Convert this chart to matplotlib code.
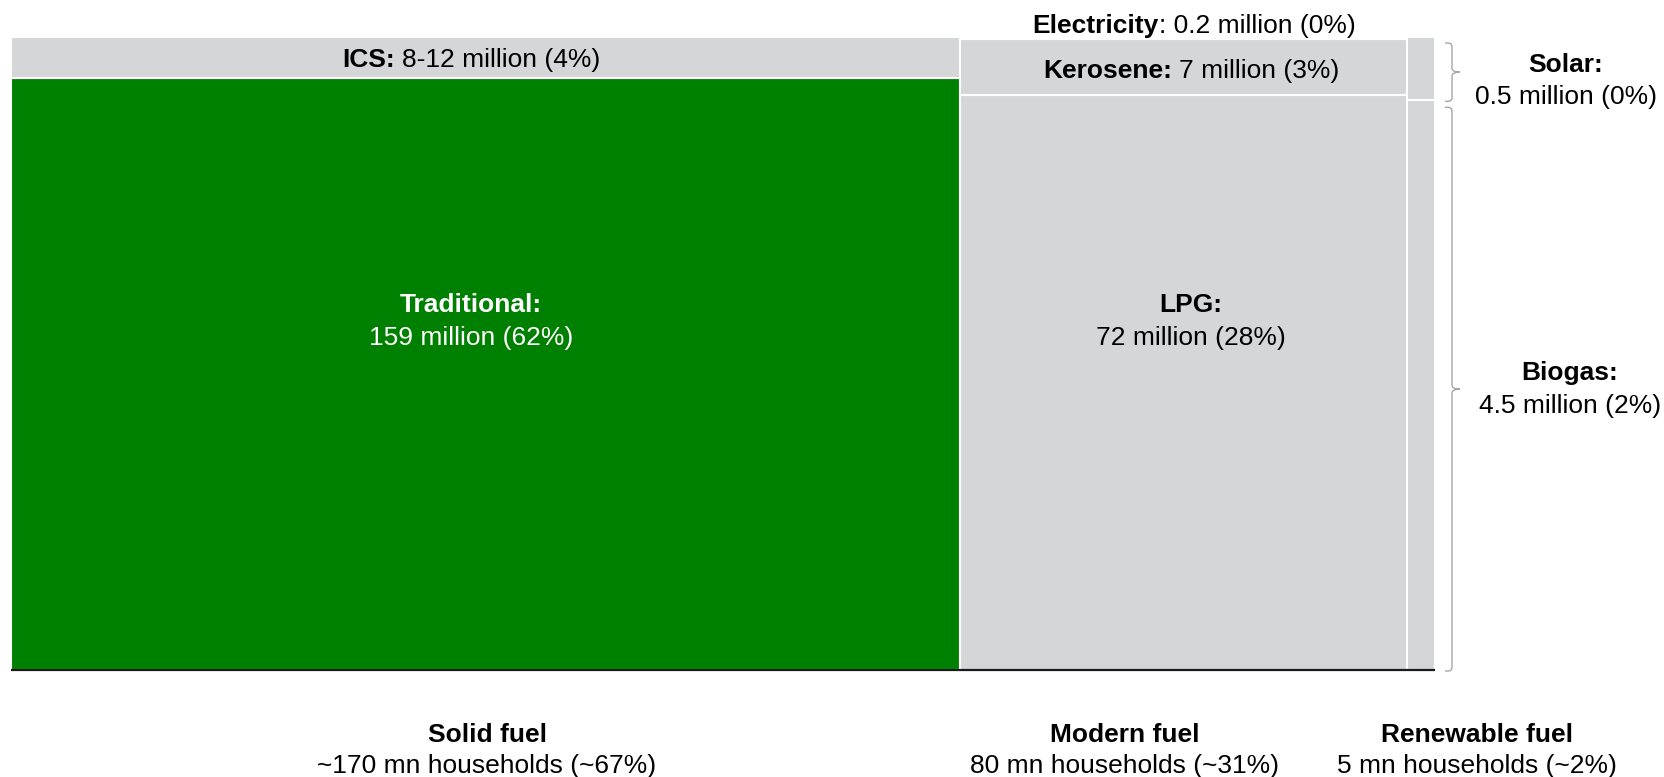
import matplotlib
matplotlib.use("Agg")
import matplotlib.pyplot as plt
from matplotlib.patches import Rectangle, PathPatch
from matplotlib.path import Path

plt.rcParams['font.family'] = ['Liberation Sans', 'DejaVu Sans']

# Indian households by primary cooking fuel (millions)
group_names = ["Solid fuel", "Modern fuel", "Renewable fuel"]
group_totals = [170, 80, 5]
group_total_text = ["~170", "80", "5"]
group_shares = ["~67%", "~31%", "~2%"]

solid_names = ["Traditional", "ICS"]
traditional_value = 159
ics_range = (8, 12)
solid_shares = ["62%", "4%"]

modern_names = ["LPG", "Kerosene", "Electricity"]
modern_values = [72, 7, 0.2]
modern_shares = ["28%", "3%", "0%"]

renewable_names = ["Biogas", "Solar"]
renewable_values = [4.5, 0.5]
renewable_shares = ["2%", "0%"]

GREEN = "#008000"
GREY = "#D5D6D8"
W, H, DPI = 1664, 777, 100
FS = 19
FS_PX = FS * DPI / 72

fig = plt.figure(figsize=(W / DPI, H / DPI), dpi=DPI)
ax = fig.add_axes([11 / W, (H - 670) / H, 1424 / W, 633 / H])
ax.set_xlim(0, sum(group_totals))
ax.set_ylim(0, 1)
ax.axis("off")

# stacked segments per column, heights normalised within each column
columns = [
    list(zip(solid_names, [traditional_value, group_totals[0] - traditional_value])),
    list(zip(modern_names, modern_values)),
    list(zip(renewable_names, renewable_values)),
]
geom = {}
x0 = 0
for width, segs in zip(group_totals, columns):
    col_sum = sum(v for _, v in segs)
    y0 = 0
    for name, v in segs:
        h = v / col_sum
        ax.add_patch(Rectangle((x0, y0), width, h,
                               facecolor=GREEN if name == "Traditional" else GREY,
                               edgecolor="white", linewidth=1.5))
        geom[name] = (x0, y0, width, h)
        y0 += h
    x0 += width

ax.plot([0, sum(group_totals)], [0, 0], color="#1a1a1a", lw=1.6,
        clip_on=False, solid_capstyle="butt")

# overlay in pixel units for labels and braces
ov = fig.add_axes([0, 0, 1, 1])
ov.set_xlim(0, W)
ov.set_ylim(H, 0)
ov.axis("off")
ov.patch.set_alpha(0)
renderer = fig.canvas.get_renderer()


def to_px(x, y):
    dx, dy = ax.transData.transform((x, y))
    return dx, H - dy


def mixed(x, y, bold, regular, color="black", gap=True):
    t1 = ov.text(x, y, bold, fontweight="bold", fontsize=FS, ha="left",
                 va="baseline", color=color)
    t2 = ov.text(x, y, regular, fontsize=FS, ha="left", va="baseline", color=color)
    w1 = t1.get_window_extent(renderer).width
    w2 = t2.get_window_extent(renderer).width
    g = 0.278 * FS_PX if gap else 0
    start = x - (w1 + g + w2) / 2
    t1.set_x(start)
    t2.set_x(start + w1 + g)


def two_line(x, y1, y2, bold, regular, color="black"):
    ov.text(x, y1, bold, fontweight="bold", fontsize=FS, ha="center",
            va="baseline", color=color)
    ov.text(x, y2, regular, fontsize=FS, ha="center", va="baseline", color=color)


def fmt(v):
    return f"{v:g}"


CAP = 0.716 * FS_PX / 2

# solid column
two_line(471, 312, 345, f"{solid_names[0]}:",
         f"{fmt(traditional_value)} million ({solid_shares[0]})", color="white")
gx, gy, gw, gh = geom["ICS"]
_, cy = to_px(0, gy + gh / 2)
mixed(471, cy + CAP, f"{solid_names[1]}:",
      f"{ics_range[0]}-{ics_range[1]} million ({solid_shares[1]})")

# modern column
two_line(1191, 312, 345, f"{modern_names[0]}:",
         f"{fmt(modern_values[0])} million ({modern_shares[0]})")
gx, gy, gw, gh = geom["Kerosene"]
_, cy = to_px(0, gy + gh / 2)
mixed(1191, cy + CAP + 2, f"{modern_names[1]}:",
      f"{fmt(modern_values[1])} million ({modern_shares[1]})")
mixed(1194, 33, modern_names[2],
      f": {fmt(modern_values[2])} million ({modern_shares[2]})", gap=False)


# braces beside the renewable column
def brace(top, bottom, right):
    xh, xv, xt = right + 10, right + 17, right + 25
    r = 4
    mid = (top + bottom) / 2
    verts = [
        (xh, top), (xv - r, top), (xv, top), (xv, top + r),
        (xv, mid - r), (xv, mid), (xt, mid),
        (xt, mid), (xv, mid), (xv, mid + r),
        (xv, bottom - r), (xv, bottom), (xv - r, bottom), (xh, bottom),
    ]
    codes = [
        Path.MOVETO, Path.LINETO, Path.CURVE3, Path.CURVE3,
        Path.LINETO, Path.CURVE3, Path.CURVE3,
        Path.MOVETO, Path.CURVE3, Path.CURVE3,
        Path.LINETO, Path.CURVE3, Path.CURVE3, Path.LINETO,
    ]
    ov.add_patch(PathPatch(Path(verts, codes), facecolor="none",
                           edgecolor="#A6A6A6", lw=1.0))


right_px, _ = to_px(sum(group_totals), 0)
for name, inset in (("Solar", 6), ("Biogas", 7)):
    gx, gy, gw, gh = geom[name]
    _, ptop = to_px(0, gy + gh)
    _, pbot = to_px(0, gy)
    brace(ptop + inset, pbot + 1, right_px)

two_line(1566, 72, 104, f"{renewable_names[1]}:",
         f"{fmt(renewable_values[1])} million ({renewable_shares[1]})")
two_line(1570, 380, 413, f"{renewable_names[0]}:",
         f"{fmt(renewable_values[0])} million ({renewable_shares[0]})")

# group captions beneath the columns
for name, tot, share, xc in zip(group_names, group_total_text, group_shares,
                                [487, 1125, 1477]):
    two_line(xc, 742, 773, name, f"{tot} mn households ({share})")

fig.savefig("out.png", dpi=DPI)
